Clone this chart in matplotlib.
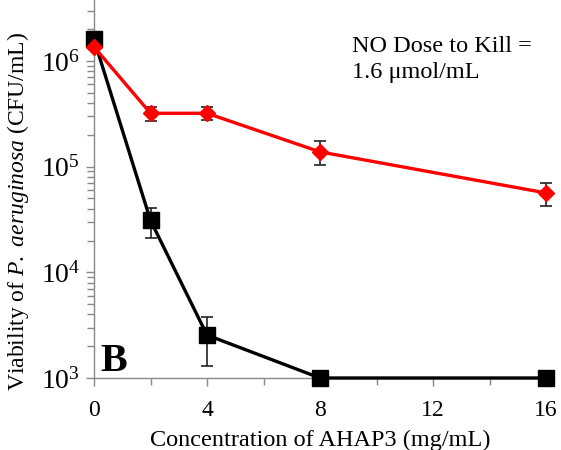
import matplotlib
matplotlib.use("Agg")
import matplotlib.pyplot as plt
from matplotlib.ticker import FixedLocator, LogLocator, NullFormatter

plt.rcParams['font.family'] = ['Liberation Serif', 'DejaVu Serif']
plt.rcParams['mathtext.fontset'] = 'custom'
plt.rcParams['mathtext.rm'] = 'Liberation Serif'
plt.rcParams['mathtext.it'] = 'Liberation Serif:italic'

conc = [0, 2, 4, 8, 16]
black_vals = [1.6e6, 3.1e4, 2.55e3, 1.0e3, 1.0e3]
black_err = [1.0e5, 1.0e4, 1.25e3, 0, 0]
red_vals = [1.36e6, 3.2e5, 3.2e5, 1.38e5, 5.64e4]
red_err = [0.5e5, 0.5e5, 0.45e5, 0.35e5, 1.4e4]

xticks = [0, 4, 8, 12, 16]
yticks = [1e3, 1e4, 1e5, 1e6]
ytick_labels = ['10$^3$', '10$^4$', '10$^5$', '10$^6$']

fig = plt.figure(figsize=(5.61, 4.5), dpi=100)
ax = fig.add_axes([94/561, 1 - 378/450, (546 - 94)/561 * 16.15/16, 378/450])

for vals, err, col, mk, ms, z in [
        (black_vals, black_err, 'black', 's', 11, 3),
        (red_vals, red_err, '#ff0000', 'D', 8.5, 4)]:
    cont = ax.errorbar(conc, vals, yerr=err, color=col, lw=2.4,
                       marker=mk, ms=ms, ecolor='#222222', elinewidth=1.2,
                       capsize=4, capthick=1.2, zorder=z)
    for art in cont.get_children():
        art.set_clip_on(False)

ax.set_yscale('log')
ax.set_ylim(1e3, 10 ** 6.577)
ax.set_xlim(0, 16.15)

ax.set_xticks(xticks)
ax.set_xticklabels([str(t) for t in xticks], fontsize=17)
ax.xaxis.set_minor_locator(FixedLocator([2, 6, 10, 14]))
ax.set_yticks(yticks)
ax.set_yticklabels(ytick_labels, fontsize=20)
ax.yaxis.set_minor_locator(LogLocator(base=10, subs=range(2, 10)))
ax.yaxis.set_minor_formatter(NullFormatter())

ax.tick_params(axis='both', which='major', direction='out', length=6,
               color='#888888', width=1)
ax.tick_params(axis='both', which='minor', direction='out', length=5,
               color='#888888', width=1)
ax.tick_params(axis='x', pad=10)
ax.tick_params(axis='y', pad=4)

for s in ['top', 'right']:
    ax.spines[s].set_visible(False)
for s in ['left', 'bottom']:
    ax.spines[s].set_color('#888888')
    ax.spines[s].set_linewidth(1)

ax.set_xlabel('Concentration of AHAP3 (mg/mL)', fontsize=17.5)
ax.xaxis.set_label_coords(0.496, -0.137)
ax.set_ylabel('Viability of $\\mathit{P.\\ aeruginosa}$ (CFU/mL)', fontsize=17)
ax.yaxis.set_label_coords(-0.138, 0.44)

ax.text(0.566, 0.905, 'NO Dose to Kill =\n1.6 \u03bcmol/mL', transform=ax.transAxes,
        fontsize=17.5, va='top', ha='left', linespacing=1.3)
ax.text(0.013, -0.005, 'B', transform=ax.transAxes, fontsize=29,
        fontweight='bold', va='bottom', ha='left')

fig.savefig('out.png', dpi=100)
